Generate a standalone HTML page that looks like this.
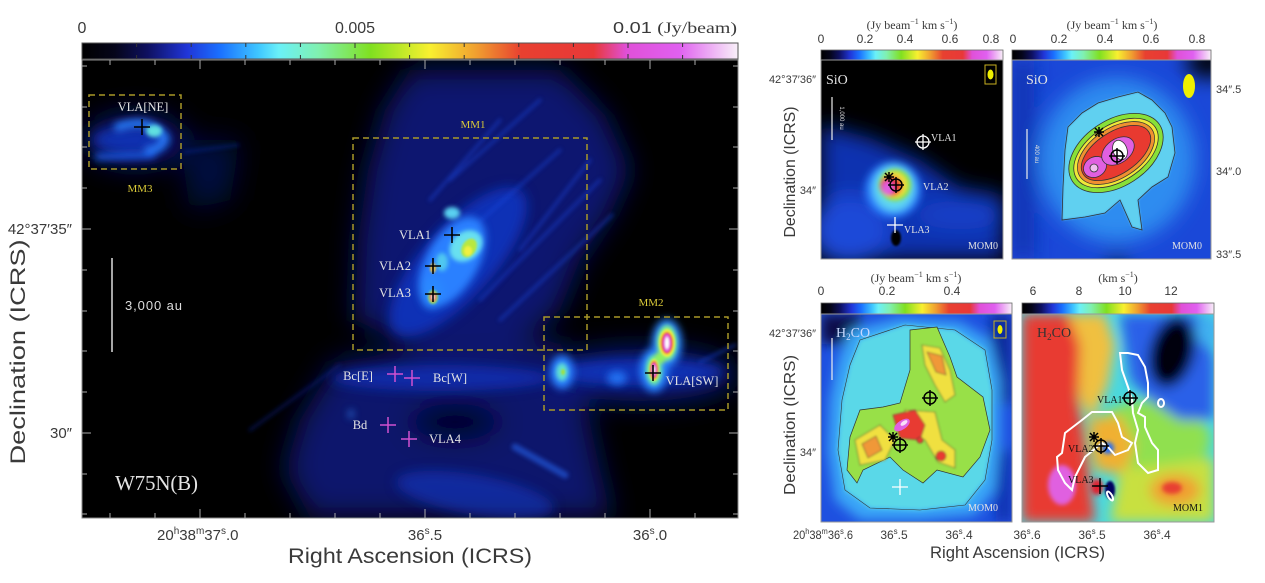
<!DOCTYPE html>
<html><head><meta charset="utf-8">
<style>
html,body{margin:0;padding:0;background:#fff;}
svg{display:block;}
text{font-family:"Liberation Sans",sans-serif;fill:#3a3a3a;}
.s{font-family:"Liberation Serif",serif;}
.w{fill:#e4e4e4;font-family:"Liberation Serif",serif;}
.y{fill:#d8c838;font-family:"Liberation Serif",serif;}
</style></head><body>
<svg width="1265" height="583" viewBox="0 0 1265 583" xmlns="http://www.w3.org/2000/svg">
<defs>
 <linearGradient id="cm" x1="0" x2="1" y1="0" y2="0">
  <stop offset="0" stop-color="#000"/>
  <stop offset="0.05" stop-color="#05051a"/>
  <stop offset="0.10" stop-color="#0e1060"/>
  <stop offset="0.16" stop-color="#2035d8"/>
  <stop offset="0.21" stop-color="#1a70ff"/>
  <stop offset="0.27" stop-color="#40c8ff"/>
  <stop offset="0.30" stop-color="#6af0f8"/>
  <stop offset="0.36" stop-color="#80f0b0"/>
  <stop offset="0.44" stop-color="#80e020"/>
  <stop offset="0.53" stop-color="#f8f030"/>
  <stop offset="0.60" stop-color="#f0a030"/>
  <stop offset="0.67" stop-color="#e84030"/>
  <stop offset="0.78" stop-color="#e83838"/>
  <stop offset="0.83" stop-color="#e050d8"/>
  <stop offset="0.91" stop-color="#e060f0"/>
  <stop offset="1" stop-color="#f8f0f8"/>
 </linearGradient>
 <filter id="b1" x="-50%" y="-50%" width="200%" height="200%"><feGaussianBlur stdDeviation="1"/></filter>
 <filter id="b2" x="-50%" y="-50%" width="200%" height="200%"><feGaussianBlur stdDeviation="2"/></filter>
 <filter id="b4" x="-50%" y="-50%" width="200%" height="200%"><feGaussianBlur stdDeviation="4"/></filter>
 <filter id="b6" x="-50%" y="-50%" width="200%" height="200%"><feGaussianBlur stdDeviation="6"/></filter>
 <filter id="b10" x="-50%" y="-50%" width="200%" height="200%"><feGaussianBlur stdDeviation="10"/></filter>
 <filter id="b14" x="-50%" y="-50%" width="200%" height="200%"><feGaussianBlur stdDeviation="14"/></filter>
 <clipPath id="cL"><rect x="82" y="60" width="656" height="458"/></clipPath>
 <clipPath id="cTL"><rect x="821" y="60" width="182" height="199"/></clipPath>
 <clipPath id="cTR"><rect x="1012" y="60" width="199" height="199"/></clipPath>
 <clipPath id="cBL"><rect x="821" y="314" width="191" height="208"/></clipPath>
 <clipPath id="cBR"><rect x="1022" y="314" width="192" height="208"/></clipPath>
 <polygon id="pgO" points="1062,220 1063,187 1065,150 1068,127 1082,113 1098,103 1118,97 1138,92 1152,100 1165,113 1172,127 1175,153 1168,177 1152,187 1138,200 1142,230 1132,227 1120,200 1105,213 1085,217"/>
 <polygon id="pgH" points="910,330 937,327 950,357 957,377 983,397 990,430 980,457 963,477 937,470 923,483 903,470 890,457 863,470 857,483 847,470 850,437 860,410 883,407 900,403 910,370"/>
</defs>
<rect width="1265" height="583" fill="#fff"/>

<!-- ================= MAIN PANEL ================= -->
<rect x="82" y="43" width="656" height="16" fill="url(#cm)" stroke="#555" stroke-width="1"/>
<path d="M136.6,43v4M191.2,43v4M245.8,43v4M300.4,43v4M355,43v5M409.6,43v4M464.2,43v4M518.8,43v4M573.4,43v4M628,43v5M682.6,43v4M136.6,59v-4M191.2,59v-4M245.8,59v-4M300.4,59v-4M355,59v-5M409.6,59v-4M464.2,59v-4M518.8,59v-4M573.4,59v-4M628,59v-5M682.6,59v-4" stroke="#333" stroke-width="1"/>
<text x="82" y="33" font-size="16" text-anchor="middle">0</text>
<text x="355" y="33" font-size="16" text-anchor="middle">0.005</text>
<text x="613" y="33" font-size="16" textLength="124" lengthAdjust="spacingAndGlyphs">0.01 <tspan class="s">(Jy/beam)</tspan></text>

<g clip-path="url(#cL)">
<rect x="82" y="60" width="656" height="458" fill="#000"/>
<g filter="url(#b14)">
 <polygon points="355,320 358,240 368,170 385,110 410,70 560,70 605,115 630,170 610,215 580,260 560,310 520,345 420,350" fill="#081870"/>
 <polygon points="300,420 335,362 420,350 560,342 585,400 600,470 612,517 310,517 285,470" fill="#08176c"/>
 <ellipse cx="135" cy="140" rx="50" ry="26" fill="#081870"/>
 <ellipse cx="640" cy="375" rx="95" ry="26" fill="#0a1c84"/>
 <polygon points="180,140 240,140 230,200 190,210" fill="#050e40"/>
 <ellipse cx="455" cy="422" rx="45" ry="18" fill="#000" opacity=".8"/>
</g>
<g filter="url(#b6)" fill="#1238c8">
 <ellipse cx="458" cy="262" rx="95" ry="36" transform="rotate(-48 458 262)" opacity=".8"/>
 <ellipse cx="440" cy="378" rx="110" ry="13" opacity=".65"/>
 <ellipse cx="475" cy="495" rx="80" ry="20" transform="rotate(10 475 495)" opacity=".55"/>
 <ellipse cx="640" cy="372" rx="85" ry="13" opacity=".75"/>
 <ellipse cx="130" cy="140" rx="38" ry="14" opacity=".75"/>
</g>
<g filter="url(#b2)" stroke="#1a48e0" stroke-width="3" stroke-linecap="round" opacity=".5">
 <line x1="480" y1="300" x2="600" y2="180"/>
 <line x1="500" y1="320" x2="612" y2="215"/>
 <line x1="470" y1="230" x2="560" y2="150"/>
 <line x1="430" y1="200" x2="500" y2="120"/>
 <line x1="520" y1="250" x2="590" y2="160"/>
 <line x1="450" y1="180" x2="540" y2="100"/>
 <line x1="515" y1="447" x2="565" y2="475" stroke="#2a70ff" stroke-width="7"/>
 <line x1="250" y1="430" x2="340" y2="365" stroke="#0c2090"/>
 <line x1="185" y1="152" x2="238" y2="145" stroke="#0e2aa0"/>
 <line x1="700" y1="362" x2="735" y2="345"/>
</g>
<g filter="url(#b4)">
 <ellipse cx="452" cy="262" rx="50" ry="26" transform="rotate(-60 452 262)" fill="#2a80ff"/>
 <ellipse cx="432" cy="293" rx="12" ry="16" fill="#2a88ff"/>
 <ellipse cx="562" cy="372" rx="12" ry="17" fill="#2a80ff"/>
 <ellipse cx="617" cy="378" rx="10" ry="7" fill="#2070f0"/>
 <ellipse cx="654" cy="370" rx="14" ry="22" fill="#2a88ff"/>
 <ellipse cx="667" cy="343" rx="15" ry="24" fill="#2a88ff"/>
 <path d="M115,128 Q150,115 165,138 Q160,152 145,150" stroke="#2a80ff" stroke-width="8" fill="none"/>
 <line x1="95" y1="157" x2="155" y2="155" stroke="#1e60f0" stroke-width="6"/>
 <ellipse cx="351" cy="414" rx="2" ry="4" fill="#3090ff"/>
</g>
<g filter="url(#b2)">
 <ellipse cx="466" cy="246" rx="18" ry="14" transform="rotate(-40 466 246)" fill="#68e0f0"/>
 <ellipse cx="452" cy="213" rx="8" ry="6" fill="#5ad0f0"/>
 <ellipse cx="442" cy="262" rx="6" ry="9" fill="#50c8f0"/>
 <ellipse cx="154" cy="131" rx="8" ry="6" fill="#60e0e0"/>
 <ellipse cx="562" cy="372" rx="6" ry="9" fill="#60e0d0"/>
 <ellipse cx="654" cy="370" rx="8" ry="15" fill="#70f0a0"/>
 <ellipse cx="667" cy="343" rx="10" ry="18" fill="#80f090"/>
 <ellipse cx="660" cy="358" rx="6" ry="6" fill="#90f060"/>
</g>
<g filter="url(#b1)">
 <ellipse cx="469" cy="248" rx="7" ry="10" transform="rotate(30 469 248)" fill="#b8e840"/>
 <ellipse cx="468" cy="251" rx="4" ry="5" fill="#f0f040"/>
 <ellipse cx="433" cy="268" rx="3" ry="5" fill="#f0c040"/>
 <ellipse cx="433" cy="297" rx="5" ry="7" fill="#90e860"/>
 <ellipse cx="433" cy="297" rx="3.5" ry="5" fill="#e83030"/>
 <ellipse cx="433" cy="297" rx="1.5" ry="3" fill="#fff"/>
 <ellipse cx="563" cy="372" rx="2" ry="3" fill="#a0e040"/>
 <ellipse cx="654" cy="370" rx="5" ry="11" fill="#f0f040"/>
 <ellipse cx="654" cy="370" rx="4" ry="9" fill="#e83030"/>
 <ellipse cx="654" cy="370" rx="2.5" ry="7" fill="#e060e0"/>
 <ellipse cx="654" cy="370" rx="1" ry="4" fill="#fff"/>
 <ellipse cx="667" cy="343" rx="8" ry="14" fill="#f0f040"/>
 <ellipse cx="667" cy="343" rx="6" ry="11" fill="#e83030"/>
 <ellipse cx="667" cy="343" rx="4" ry="9" fill="#e060e0"/>
 <ellipse cx="667" cy="343" rx="2" ry="6" fill="#fff"/>
</g>
<!-- boxes -->
<g fill="none" stroke="#a89828" stroke-width="1.5" stroke-dasharray="6,4">
 <rect x="89" y="95" width="92" height="74"/>
 <rect x="353" y="138" width="234" height="212"/>
 <rect x="544" y="317" width="184" height="93"/>
</g>
<line x1="112" y1="258" x2="112" y2="352" stroke="#ddd" stroke-width="1.5"/>
<g stroke="#000" stroke-width="1.6">
 <path d="M134,127h16M142,119v16"/>
 <path d="M444,235h16M452,227v16"/>
 <path d="M425,266h16M433,258v16"/>
 <path d="M425,294h16M433,286v16"/>
 <path d="M645,373h16M653,365v16"/>
</g>
<g stroke="#d050d0" stroke-width="1.5">
 <path d="M387,374h16M395,366v16"/>
 <path d="M404,378h16M412,370v16"/>
 <path d="M380,425h16M388,417v16"/>
 <path d="M401,439h16M409,431v16"/>
</g>
</g>
<rect x="82" y="60" width="656" height="458" fill="none" stroke="#888" stroke-width="1"/>
<path d="M110,60v5M155,60v5M200,60v9M245,60v5M290,60v5M335,60v5M380,60v5M425,60v9M470,60v5M515,60v5M560,60v5M605,60v5M650,60v9M695,60v5M110,518v-5M155,518v-5M200,518v-9M245,518v-5M290,518v-5M335,518v-5M380,518v-5M425,518v-9M470,518v-5M515,518v-5M560,518v-5M605,518v-5M650,518v-9M695,518v-5M82,66h5M82,107h5M82,147h5M82,188h5M82,229h9M82,270h5M82,311h5M82,351h5M82,392h5M82,433h9M82,474h5M82,514h5M738,66h-5M738,107h-5M738,147h-5M738,188h-5M738,229h-9M738,270h-5M738,311h-5M738,351h-5M738,392h-5M738,433h-9M738,474h-5M738,514h-5" stroke="#aaa" stroke-width="1"/>
<text class="w" x="143" y="111" font-size="12.5" text-anchor="middle">VLA[NE]</text>
<text class="y" x="140" y="192" font-size="11" text-anchor="middle">MM3</text>
<text class="y" x="473" y="128" font-size="11" text-anchor="middle">MM1</text>
<text class="y" x="651" y="306" font-size="11" text-anchor="middle">MM2</text>
<text class="w" x="415" y="239" font-size="12.5" text-anchor="middle">VLA1</text>
<text class="w" x="395" y="270" font-size="12.5" text-anchor="middle">VLA2</text>
<text class="w" x="395" y="297" font-size="12.5" text-anchor="middle">VLA3</text>
<text class="w" x="358" y="380" font-size="12.5" text-anchor="middle">Bc[E]</text>
<text class="w" x="450" y="382" font-size="12.5" text-anchor="middle">Bc[W]</text>
<text class="w" x="360" y="429" font-size="12.5" text-anchor="middle">Bd</text>
<text class="w" x="445" y="443" font-size="12.5" text-anchor="middle">VLA4</text>
<text class="w" x="692" y="385" font-size="12.5" text-anchor="middle">VLA[SW]</text>
<text x="125" y="310" font-size="13" style="fill:#ddd" textLength="57">3,000 au</text>
<text class="w" x="115" y="490" font-size="21" textLength="83">W75N(B)</text>
<text x="72" y="234" font-size="15" text-anchor="end">42°37′35″</text>
<text x="72" y="438" font-size="15" text-anchor="end">30″</text>
<text x="157" y="540" font-size="15">20<tspan dy="-6" font-size="10">h</tspan><tspan dy="6">38</tspan><tspan dy="-6" font-size="10">m</tspan><tspan dy="6">37</tspan><tspan dy="-6" font-size="10">s</tspan><tspan dy="6">.0</tspan></text>
<text x="425" y="540" font-size="15" text-anchor="middle">36<tspan dy="-6" font-size="10">s</tspan><tspan dy="6">.5</tspan></text>
<text x="650" y="540" font-size="15" text-anchor="middle">36<tspan dy="-6" font-size="10">s</tspan><tspan dy="6">.0</tspan></text>
<text x="288" y="563" font-size="21" textLength="244" lengthAdjust="spacingAndGlyphs">Right Ascension (ICRS)</text>
<text transform="translate(25,352) rotate(-90)" font-size="21" text-anchor="middle" textLength="225" lengthAdjust="spacingAndGlyphs">Declination (ICRS)</text>

<!-- colorbars right -->
<rect x="821" y="50" width="182" height="11" fill="url(#cm)" stroke="#666" stroke-width=".8"/>
<rect x="1012" y="50" width="199" height="11" fill="url(#cm)" stroke="#666" stroke-width=".8"/>
<rect x="821" y="303" width="191" height="11" fill="url(#cm)" stroke="#666" stroke-width=".8"/>
<rect x="1022" y="303" width="192" height="11" fill="url(#cm)" stroke="#666" stroke-width=".8"/>
<g font-size="12" text-anchor="middle">
 <text x="821" y="43">0</text><text x="865" y="43">0.2</text><text x="905" y="43">0.4</text><text x="950" y="43">0.6</text><text x="991" y="43">0.8</text>
 <text x="1013" y="43">0</text><text x="1059" y="43">0.2</text><text x="1105" y="43">0.4</text><text x="1151" y="43">0.6</text><text x="1197" y="43">0.8</text>
 <text x="821" y="295">0</text><text x="887" y="295">0.2</text><text x="952" y="295">0.4</text>
 <text x="1033" y="295">6</text><text x="1079" y="295">8</text><text x="1125" y="295">10</text><text x="1171" y="295">12</text>
</g>
<g font-size="12" text-anchor="middle">
 <text class="s" x="912" y="29">(Jy beam<tspan dy="-5" font-size="8">−1</tspan><tspan dy="5"> km s</tspan><tspan dy="-5" font-size="8">−1</tspan><tspan dy="5">)</tspan></text>
 <text class="s" x="1112" y="29">(Jy beam<tspan dy="-5" font-size="8">−1</tspan><tspan dy="5"> km s</tspan><tspan dy="-5" font-size="8">−1</tspan><tspan dy="5">)</tspan></text>
 <text class="s" x="916" y="282">(Jy beam<tspan dy="-5" font-size="8">−1</tspan><tspan dy="5"> km s</tspan><tspan dy="-5" font-size="8">−1</tspan><tspan dy="5">)</tspan></text>
 <text class="s" x="1118" y="282">(km s<tspan dy="-5" font-size="8">−1</tspan><tspan dy="5">)</tspan></text>
</g>

<!-- ================= TOP-LEFT SiO ================= -->
<g clip-path="url(#cTL)">
<rect x="821" y="60" width="182" height="199" fill="#000"/>
<g filter="url(#b10)">
 <polygon points="821,125 870,138 920,160 960,188 1003,195 1003,259 821,259" fill="#1030b0"/>
 <ellipse cx="850" cy="230" rx="40" ry="35" fill="#1a48d8"/>
 <ellipse cx="960" cy="215" rx="45" ry="14" fill="#1840c8"/>
</g>
<g filter="url(#b4)">
 <ellipse cx="893" cy="190" rx="28" ry="28" fill="#2a80ff"/>
 <ellipse cx="894" cy="188" rx="21" ry="23" fill="#60d8f0"/>
</g>
<g filter="url(#b2)">
 <ellipse cx="895" cy="185" rx="16" ry="16" fill="#90e040"/>
 <ellipse cx="894" cy="185" rx="13" ry="13" fill="#f0e040"/>
 <ellipse cx="891" cy="186" rx="11" ry="10" fill="#e83030"/>
 <ellipse cx="888" cy="188" rx="6" ry="7" fill="#e060e0"/>
</g>
<ellipse cx="896" cy="238" rx="5" ry="8" fill="#000" filter="url(#b1)"/>
<rect x="985" y="65" width="11" height="19" fill="none" stroke="#c8b020" stroke-width="1"/>
<ellipse cx="990.5" cy="74.5" rx="3" ry="5" fill="#f0f000"/>
<line x1="832" y1="97" x2="832" y2="140" stroke="#eee" stroke-width="1.2"/>
<text transform="translate(840,118) rotate(90)" font-size="6" text-anchor="middle" style="fill:#ddd">1,000 au</text>
<g fill="none" stroke="#fff" stroke-width="1.3"><circle cx="923" cy="142" r="6"/><path d="M915,142h16M923,134v16"/><path d="M887,225h16M895,217v16"/></g>
<g fill="none" stroke="#000" stroke-width="1.5"><circle cx="896" cy="185" r="6"/><path d="M888,185h16M896,177v16"/><path d="M884,177l10,0M889,172v10M885,173l8,8M893,173l-8,8"/></g>
<text class="w" x="826" y="84" font-size="14">SiO</text>
<text class="w" x="968" y="249" font-size="10">MOM0</text>
<text class="w" x="931" y="141" font-size="10">VLA1</text>
<text class="w" x="923" y="190" font-size="10">VLA2</text>
<text class="w" x="904" y="233" font-size="10">VLA3</text>
</g>
<rect x="821" y="60" width="182" height="199" fill="none" stroke="#999" stroke-width="1"/>
<text x="816" y="83" font-size="11" text-anchor="end">42°37′36″</text>
<text x="816" y="194" font-size="11" text-anchor="end">34″</text>
<text transform="translate(795,172) rotate(-90)" font-size="16" text-anchor="middle" textLength="131" lengthAdjust="spacingAndGlyphs">Declination (ICRS)</text>

<!-- ================= TOP-RIGHT SiO zoom ================= -->
<g clip-path="url(#cTR)">
<rect x="1012" y="60" width="199" height="199" fill="#1a48d8"/>
<g filter="url(#b10)">
 <rect x="1012" y="60" width="22" height="199" fill="#1030b0"/>
 <ellipse cx="1208" cy="62" rx="22" ry="16" fill="#000"/>
 <ellipse cx="1117" cy="263" rx="12" ry="7" fill="#000"/>
 <ellipse cx="1117" cy="160" rx="78" ry="82" fill="#2f8cf0"/>
</g>
<use href="#pgO" fill="#60d0f0" filter="url(#b1)"/>
<use href="#pgO" fill="none" stroke="#333" stroke-width=".8"/>
<g stroke="#333" stroke-width=".8" transform="rotate(-33 1116 153)">
 <ellipse cx="1116" cy="153" rx="52" ry="33" fill="#88e038"/>
 <ellipse cx="1116" cy="153" rx="47" ry="28" fill="#f0e838"/>
 <ellipse cx="1116" cy="153" rx="43" ry="25" fill="#f09030"/>
 <ellipse cx="1116" cy="153" rx="39" ry="21" fill="#e83a30"/>
</g>
<g stroke="#333" stroke-width=".8">
 <ellipse cx="1095" cy="167" rx="12" ry="10" fill="#e060e0" transform="rotate(-30 1095 167)"/>
 <ellipse cx="1118" cy="151" rx="18" ry="12" fill="#e060e0" transform="rotate(-35 1118 151)"/>
 <ellipse cx="1120" cy="150" rx="7" ry="10" fill="#fff" transform="rotate(-20 1120 150)"/>
 <ellipse cx="1094" cy="168" rx="4" ry="4" fill="#f0c0f0"/>
</g>
<ellipse cx="1189" cy="86" rx="6" ry="12" fill="#f0f000"/>
<line x1="1027" y1="129" x2="1027" y2="179" stroke="#eee" stroke-width="1.2"/>
<text transform="translate(1035,154) rotate(90)" font-size="6" text-anchor="middle" style="fill:#ddd">400 au</text>
<g fill="none" stroke="#000" stroke-width="1.5"><circle cx="1117" cy="156" r="6"/><path d="M1109,156h16M1117,148v16"/><path d="M1094,132h10M1099,127v10M1095,128l8,8M1103,128l-8,8"/></g>
<text class="w" x="1026" y="84" font-size="14">SiO</text>
<text class="w" x="1172" y="249" font-size="10">MOM0</text>
</g>
<rect x="1012" y="60" width="199" height="199" fill="none" stroke="#999" stroke-width="1"/>
<text x="1216" y="93" font-size="11">34″.5</text>
<text x="1216" y="175" font-size="11">34″.0</text>
<text x="1216" y="258" font-size="11">33″.5</text>

<!-- ================= BOTTOM-LEFT H2CO MOM0 ================= -->
<g clip-path="url(#cBL)">
<rect x="821" y="314" width="191" height="208" fill="#1e50e0"/>
<g filter="url(#b6)">
 <rect x="821" y="314" width="40" height="30" fill="#08104a"/>
 <rect x="990" y="314" width="22" height="90" fill="#0e2a9a"/>
 <rect x="996" y="450" width="16" height="72" fill="#1030b0"/>
 <polygon points="850,330 900,318 960,322 990,340 1000,380 1000,440 995,490 975,515 920,520 860,520 835,500 828,450 830,400 838,360" fill="#3aa8f8"/>
</g>
<g filter="url(#b2)">
 <polygon points="860,340 905,325 955,330 985,350 992,390 992,440 985,480 965,505 920,510 870,508 845,490 838,450 842,400 850,365" fill="#5ad8e8"/>
</g>
<polygon points="860,340 905,325 955,330 985,350 992,390 992,440 985,480 965,505 920,510 870,508 845,490 838,450 842,400 850,365" fill="none" stroke="#333" stroke-width=".6"/>
<use href="#pgH" fill="#98e048" stroke="#333" stroke-width=".7"/>
<g stroke="#333" stroke-width=".6" filter="url(#b1)">
 <polygon points="922,345 940,348 950,370 955,395 945,402 935,385 925,365" fill="#f0e040"/>
 <polygon points="855,440 880,425 895,440 885,460 860,465" fill="#f0e040"/>
 <polygon points="905,410 935,412 942,440 955,450 955,468 938,462 925,440 905,430" fill="#f0e040"/>
 <polygon points="927,352 942,356 946,375 936,372" fill="#f09838"/>
 <polygon points="862,444 876,436 882,450 868,458" fill="#f09838"/>
 <polygon points="893,415 915,410 925,425 920,440 900,438" fill="#e83a30"/>
 <circle cx="941" cy="456" r="5" fill="#e83a30"/>
 <circle cx="920" cy="440" r="3" fill="#e83a30"/>
</g>
<ellipse cx="902" cy="425" rx="9" ry="4.5" transform="rotate(-35 902 425)" fill="#e060e0"/>
<ellipse cx="904" cy="423" rx="4" ry="2" transform="rotate(-35 904 423)" fill="#f8e0f8"/>
<g fill="none" stroke="#000" stroke-width="1.5"><circle cx="930" cy="398" r="6"/><path d="M922,398h16M930,390v16"/><circle cx="900" cy="445" r="6"/><path d="M892,445h16M900,437v16"/><path d="M888,437h10M893,432v10M889,433l8,8M897,433l-8,8"/></g>
<path d="M892,487h16M900,479v16" stroke="#fff" stroke-width="1.3"/>
<rect x="994" y="321" width="12" height="17" fill="none" stroke="#c8b020" stroke-width="1"/>
<ellipse cx="1000" cy="329.5" rx="2.5" ry="4.5" fill="#f0f000"/>
<line x1="832" y1="338" x2="832" y2="380" stroke="#eee" stroke-width="1.2"/>
<text class="w" x="836" y="337" font-size="14" style="fill:#c8d8ff">H<tspan dy="3" font-size="9">2</tspan><tspan dy="-3">CO</tspan></text>
<text class="w" x="968" y="511" font-size="10">MOM0</text>
</g>
<rect x="821" y="314" width="191" height="208" fill="none" stroke="#999" stroke-width="1"/>
<text x="816" y="337" font-size="11" text-anchor="end">42°37′36″</text>
<text x="816" y="456" font-size="11" text-anchor="end">34″</text>
<text transform="translate(795,425) rotate(-90)" font-size="16" text-anchor="middle" textLength="140" lengthAdjust="spacingAndGlyphs">Declination (ICRS)</text>

<!-- ================= BOTTOM-RIGHT H2CO MOM1 ================= -->
<g clip-path="url(#cBR)">
<rect x="1022" y="314" width="192" height="208" fill="#48d8e0"/>
<g filter="url(#b6)">
 <ellipse cx="1150" cy="440" rx="60" ry="40" fill="#90e050"/>
 <polygon points="1120,314 1200,314 1214,360 1214,420 1180,420 1150,400 1130,380" fill="#2a60e8"/>
 <ellipse cx="1172" cy="352" rx="22" ry="36" transform="rotate(15 1172 352)" fill="#000010"/>
 <polygon points="1065,314 1105,314 1115,345 1108,385 1092,420 1080,400 1075,350" fill="#f0c040"/>
 <polygon points="1022,314 1068,314 1080,345 1078,400 1085,440 1090,480 1095,522 1022,522" fill="#e83a30"/>
 <polygon points="1088,420 1120,415 1135,445 1125,475 1095,470" fill="#f0b030"/>
 <polygon points="1120,470 1214,458 1214,522 1110,522" fill="#c8e040"/>
 <ellipse cx="1175" cy="490" rx="25" ry="16" fill="#f0a030"/>
 <ellipse cx="1208" cy="330" rx="12" ry="16" fill="#40b0f0"/>
</g>
<g filter="url(#b2)">
 <ellipse cx="1062" cy="485" rx="14" ry="20" fill="#e060e0"/>
 <ellipse cx="1172" cy="488" rx="10" ry="6" fill="#e84030"/>
 <ellipse cx="1097" cy="487" rx="6" ry="8" fill="#e02030"/>
 <ellipse cx="1108" cy="448" rx="6" ry="6" fill="#2a70f0"/>
</g>
<ellipse cx="1110" cy="490" rx="5" ry="9" fill="#000060" filter="url(#b1)"/>
<g fill="none" stroke="#fff" stroke-width="2">
 <polygon points="1120,353 1128,353 1138,355 1145,367 1148,383 1148,397 1142,403 1138,413 1145,417 1145,427 1152,443 1158,450 1158,470 1148,473 1138,463 1135,443 1138,430 1133,413 1132,400 1128,387 1122,370"/>
 <polygon points="1062,453 1065,433 1082,420 1092,412 1112,412 1118,423 1122,437 1132,443 1128,450 1115,455 1108,447 1102,443 1085,457 1075,477 1072,490 1065,483 1058,470 1057,457"/>
 <ellipse cx="1161" cy="403" rx="3" ry="4"/>
 <ellipse cx="1110" cy="496" rx="2" ry="5" transform="rotate(-30 1110 496)"/>
</g>
<g fill="none" stroke="#000" stroke-width="1.5"><circle cx="1130" cy="398" r="6"/><path d="M1122,398h16M1130,390v16"/><circle cx="1101" cy="446" r="6"/><path d="M1093,446h16M1101,438v16"/><path d="M1092,486h16M1100,478v16"/><path d="M1089,437h10M1094,432v10M1090,433l8,8M1098,433l-8,8"/></g>
<text class="s" x="1037" y="337" font-size="14" style="fill:#333">H<tspan dy="3" font-size="9">2</tspan><tspan dy="-3">CO</tspan></text>
<text class="s" x="1097" y="403" font-size="10" style="fill:#111">VLA1</text>
<text class="s" x="1068" y="452" font-size="10" style="fill:#111">VLA2</text>
<text class="s" x="1068" y="483" font-size="10" style="fill:#111">VLA3</text>
<text class="s" x="1173" y="511" font-size="10" style="fill:#111">MOM1</text>
</g>
<rect x="1022" y="314" width="192" height="208" fill="none" stroke="#999" stroke-width="1"/>

<g font-size="12">
 <text x="793" y="539" textLength="60" lengthAdjust="spacingAndGlyphs">20<tspan dy="-5" font-size="8">h</tspan><tspan dy="5">38</tspan><tspan dy="-5" font-size="8">m</tspan><tspan dy="5">36</tspan><tspan dy="-5" font-size="8">s</tspan><tspan dy="5">.6</tspan></text>
 <text x="894" y="539" text-anchor="middle">36<tspan dy="-5" font-size="8">s</tspan><tspan dy="5">.5</tspan></text>
 <text x="959" y="539" text-anchor="middle">36<tspan dy="-5" font-size="8">s</tspan><tspan dy="5">.4</tspan></text>
 <text x="1027" y="539" text-anchor="middle">36<tspan dy="-5" font-size="8">s</tspan><tspan dy="5">.6</tspan></text>
 <text x="1092" y="539" text-anchor="middle">36<tspan dy="-5" font-size="8">s</tspan><tspan dy="5">.5</tspan></text>
 <text x="1157" y="539" text-anchor="middle">36<tspan dy="-5" font-size="8">s</tspan><tspan dy="5">.4</tspan></text>
</g>
<text x="930" y="558" font-size="17" textLength="175" lengthAdjust="spacingAndGlyphs">Right Ascension (ICRS)</text>
</svg>
</body></html>
